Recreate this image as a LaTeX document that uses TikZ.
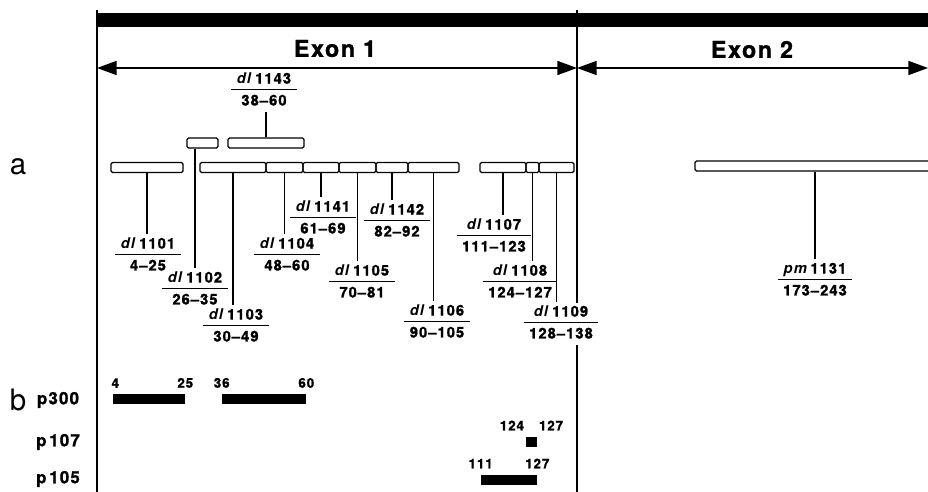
\documentclass[tikz,border=0pt]{standalone}
\usepackage{fontspec}
\setmainfont{TeX Gyre Heros}
\newfontfamily\lblfont[LetterSpace=7, BoldFeatures={FakeBold=1.2}]{TeX Gyre Heros}
\usetikzlibrary{arrows.meta,positioning}

\newcommand{\upx}{0.025cm}
\setlength{\arrayrulewidth}{0.8pt}
\newcommand{\mutlab}[2]{\begin{tabular}{@{\hspace{4pt}}c@{\hspace{4pt}}}#1\\\hline\rule{0pt}{11pt}#2\end{tabular}}

\begin{document}
\begin{tikzpicture}[
    x=\upx,y=-\upx,
    seg/.style={draw, rounded corners=1pt, line width=0.9pt, inner sep=0pt,
      minimum height=10*\upx},
    mut/.style={font=\lblfont\bfseries\fontsize{10.5}{12.6}\selectfont, inner sep=1pt},
    stem/.style={line width=0.75pt},
    bar/.style={fill=black, inner sep=0pt, minimum height=10*\upx},
    num/.style={font=\lblfont\bfseries\fontsize{9.5}{11}\selectfont, inner sep=0pt},
    prot/.style={font=\lblfont\bfseries\fontsize{12}{14}\selectfont, inner sep=0pt},
    panel/.style={font=\fontsize{21}{25}\selectfont, inner sep=0pt},
    exon/.style={font=\lblfont\bfseries\fontsize{16.5}{19}\selectfont, inner sep=0pt},
    span/.style={{Triangle[length=14pt,width=10pt]}-{Triangle[length=14pt,width=10pt]},
      line width=1pt}
  ]
    \useasboundingbox (0,0) rectangle (928,492);

    % gene bar and exon boundaries
    \fill (97,13) rectangle (940,27);
    \draw[line width=1pt] (97,10) -- (97,492);
    \draw[line width=1pt] (577,10) -- (577,492);

    \coordinate (e1l) at (97,68);
    \coordinate (e1r) at (577,68);
    \coordinate (e2r) at (928,68);
    \draw[span] (e1l) -- (e1r);
    \draw[span] (e1r) -- (e2r);
    \node[exon] (ex1) at (335,48.5) {Exon 1};
    \node[exon] (ex2) at (752,49.5) {Exon 2};

    % panel a
    \node[panel] (pa) at (18,167) {a};

    \node[seg, minimum width=72*\upx] (s1101) at (147,167.5) {};
    \node[seg, minimum width=31*\upx] (s1102) at (202.5,143) {};
    \node[seg, minimum width=76*\upx] (s1143) at (266,143) {};
    \node[seg, minimum width=66*\upx] (s1103) at (233,167.5) {};
    \node[seg, minimum width=37*\upx] (s1104) at (284.5,167.5) {};
    \node[seg, minimum width=36*\upx] (s1141) at (321,167.5) {};
    \node[seg, minimum width=37*\upx] (s1105) at (357.5,167.5) {};
    \node[seg, minimum width=32*\upx] (s1142) at (392,167.5) {};
    \node[seg, minimum width=51*\upx] (s1106) at (433.5,167.5) {};
    \node[seg, minimum width=46*\upx] (s1107) at (503,167.5) {};
    \node[seg, minimum width=13*\upx] (s1108) at (532.5,167.5) {};
    \node[seg, minimum width=35*\upx] (s1109) at (556.5,167.5) {};
    \node[seg, minimum width=265*\upx] (s1131) at (827.5,166) {};

    \node[mut] (dl1143) at (264,91) {\mutlab{\textit{dl}\,1143}{38–60}};
    \node[mut] (dl1101) at (148,256) {\mutlab{\textit{dl}\,1101}{4–25}};
    \node[mut] (dl1102) at (195,290) {\mutlab{\textit{dl}\,1102}{26–35}};
    \node[mut] (dl1103) at (236,327) {\mutlab{\textit{dl}\,1103}{30–49}};
    \node[mut] (dl1104) at (287,256) {\mutlab{\textit{dl}\,1104}{48–60}};
    \node[mut] (dl1141) at (323,219) {\mutlab{\textit{dl}\,1141}{61–69}};
    \node[mut] (dl1105) at (362,283) {\mutlab{\textit{dl}\,1105}{70–81}};
    \node[mut] (dl1142) at (397,222) {\mutlab{\textit{dl}\,1142}{82–92}};
    \node[mut] (dl1106) at (437,323) {\mutlab{\textit{dl}\,1106}{90–105}};
    \node[mut] (dl1107) at (494,237) {\mutlab{\textit{dl}\,1107}{111–123}};
    \node[mut] (dl1108) at (520,283) {\mutlab{\textit{dl}\,1108}{124–127}};
    \node[mut, fill=white] (dl1109) at (561,324) {\mutlab{\textit{dl}\,1109}{128–138}};
    \node[mut] (pm1131) at (815,281) {\mutlab{\textit{pm}\,1131}{173–243}};

    \draw[stem] (s1143.north) -- (s1143.north |- dl1143.south);
    \draw[stem] (s1101.south) -- (s1101.south |- dl1101.north);
    \draw[stem] (dl1102.north |- s1102.south) -- (dl1102.north);
    \draw[stem] (s1103.south) -- (s1103.south |- dl1103.north);
    \draw[stem] (s1104.south) -- (s1104.south |- dl1104.north);
    \draw[stem] (s1141.south) -- (s1141.south |- dl1141.north);
    \draw[stem] (s1105.south) -- (s1105.south |- dl1105.north);
    \draw[stem] (s1142.south) -- (s1142.south |- dl1142.north);
    \draw[stem] (s1106.south) -- (s1106.south |- dl1106.north);
    \draw[stem] (s1107.south) -- (s1107.south |- dl1107.north);
    \draw[stem] (s1108.south) -- (s1108.south |- dl1108.north);
    \draw[stem] (s1109.south) -- (s1109.south |- dl1109.north);
    \draw[stem] (pm1131.north |- s1131.south) -- (pm1131.north);

    % panel b
    \node[panel] (pb) at (18,400) {b};
    \node[prot] (p300) at (58,400) {p300};
    \node[prot] (p107) at (58,442) {p\,107};
    \node[prot] (p105) at (58,479) {p\,105};

    \node[bar, minimum width=72*\upx] (b300a) at (149,399) {};
    \node[bar, minimum width=84*\upx] (b300b) at (264,399) {};
    \node[bar, minimum width=11*\upx] (b107) at (531.5,441.5) {};
    \node[bar, minimum width=56*\upx] (b105) at (509,479.5) {};

    \node[num, above right=4pt and -1pt of b300a.north west] (n4) {4};
    \node[num, above=4pt of b300a.north east] (n25) {25};
    \node[num, above=4pt of b300b.north west] (n36) {36};
    \node[num, above=4pt of b300b.north east] (n60) {60};
    \node[num, above left=4pt and 1pt of b107.north west] (n124) {124};
    \node[num, above right=4pt and 1pt of b107.north east] (n127a) {127};
    \node[num, above=4pt of b105.north west] (n111) {111};
    \node[num, above=4pt of b105.north east] (n127b) {127};
  \end{tikzpicture}
\end{document}
